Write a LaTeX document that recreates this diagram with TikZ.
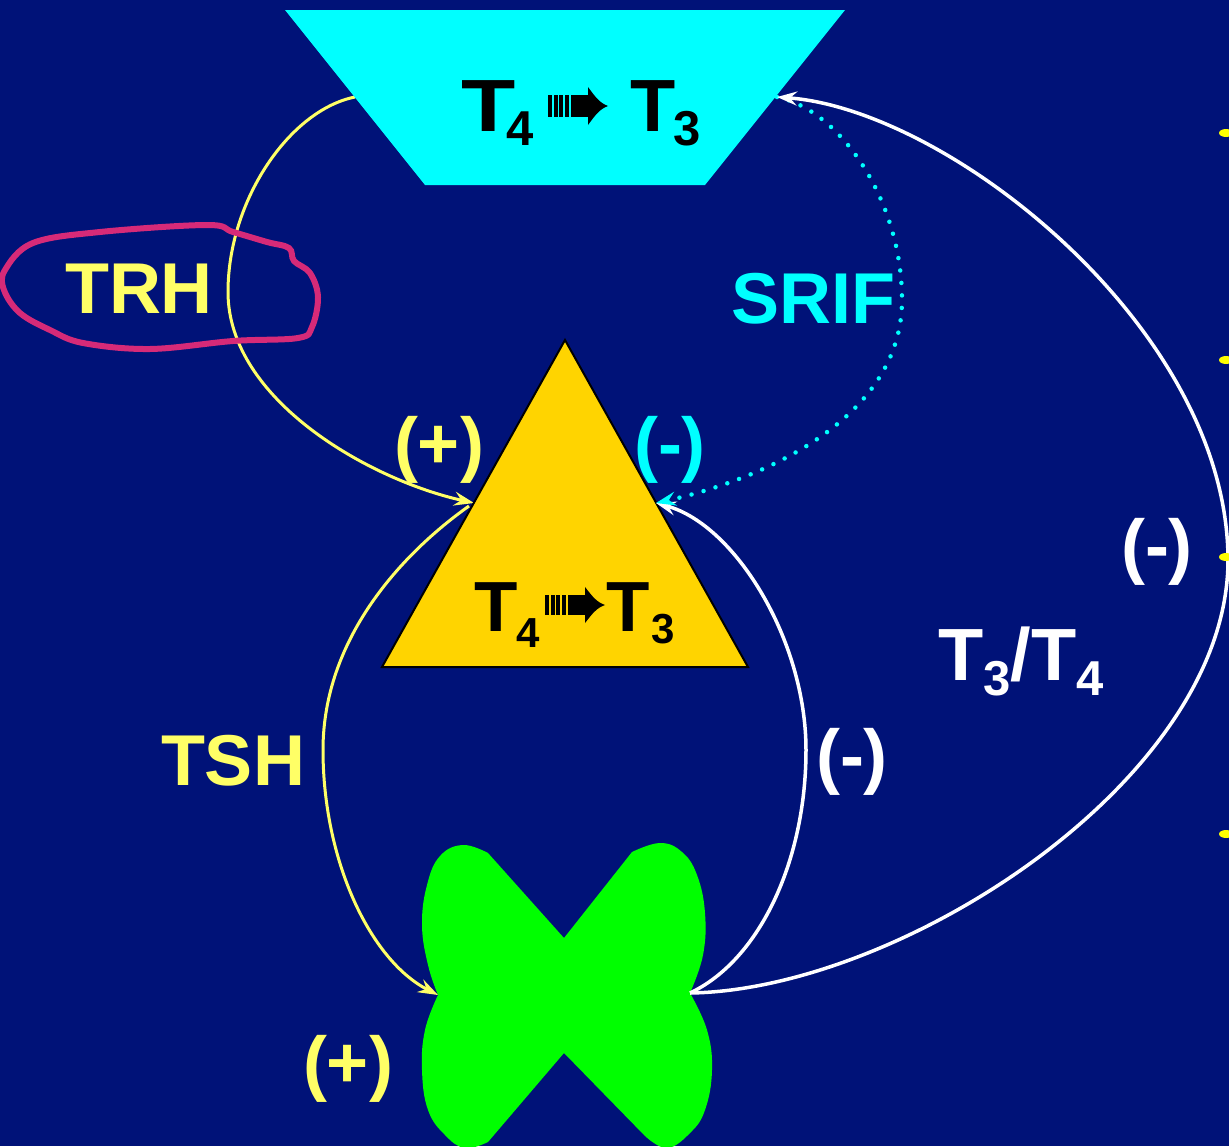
\documentclass[tikz,border=0pt]{standalone}
\usepackage{fontspec}
\setmainfont{Liberation Sans}
\usepackage{graphicx}
\usetikzlibrary{arrows.meta}
\definecolor{bgnavy}{RGB}{0,18,120}
\definecolor{tcyan}{RGB}{0,255,255}
\definecolor{tgold}{RGB}{255,212,0}
\definecolor{tgreen}{RGB}{0,255,0}
\definecolor{lyel}{RGB}{255,255,102}
\definecolor{dotyel}{RGB}{255,255,0}
\definecolor{tmag}{RGB}{214,42,120}
\newcommand\fsz[1]{\fontsize{#1}{#1}\selectfont}
\tikzset{
  lbl/.style={inner sep=0pt, anchor=base, font=\bfseries\fsz{72}},
  bw/.style={inner sep=0pt, anchor=base west, font=\bfseries\fsz{#1}},
  tip/.style={-{Stealth[length=20pt,width=14pt,inset=7pt]}},
  yline/.style={draw=lyel, line width=3pt},
  wline/.style={draw=white, line width=3.5pt},
  cdots/.style={draw=tcyan, line width=4.5pt, line cap=round, dash pattern=on 0pt off 12.5pt},
  dasharrow/.pic={
    \foreach \xa in {0,5.7,11.4,17.1,22.8}{\fill (\xa,-11) rectangle ++(3.8,22);}
    \fill (26.5,-11) rectangle (41,11);
    \fill (40,-19) .. controls (48,-8) and (52,-3) .. (60,0) .. controls (52,3) and (48,8) .. (40,19) -- cycle;
  }
}
\begin{document}
\begin{tikzpicture}[x=1pt,y=-1pt]
\useasboundingbox (0,0) rectangle (1229,1146);
\clip (0,0) rectangle (1229,1146);
\fill[bgnavy] (0,0) rectangle (1229,1146);

% connection points
\coordinate (trapL) at (355,97);
\coordinate (trapR) at (777,97);
\coordinate (triL) at (474,503);
\coordinate (triLs) at (469,506);
\coordinate (triR) at (656,503);
\coordinate (thyL) at (438,995);
\coordinate (thyR) at (690,993);
\coordinate (w1) at (228,292);
\coordinate (w2) at (323,750);
\coordinate (w3) at (806,750);
\coordinate (w4) at (902,300);
\coordinate (w5) at (1228,560);

% TRH curve (under the magenta outline)
\draw[yline, tip] (trapL) .. controls (290,110) and (228,200) .. (w1)
  .. controls (228,400) and (370,480) .. (triL);

% magenta hand-drawn outline
\draw[tmag, line width=6pt] plot[smooth cycle, tension=0.6] coordinates {
 (5,270) (33,243) (100,232) (207,225) (233,232) (267,242) (289,248) (294,261)
 (310,273) (318,297) (312,327) (298,338) (233,341) (150,349) (83,343) (50,330) (20,313) (4,290)};

% trapezoid
\fill[tcyan] (285,10) -- (845,10) -- (705,185) -- (425,185) -- cycle;
% triangle
\draw[fill=tgold, draw=black, line width=2pt, line join=miter] (565,340) -- (748,667) -- (382,667) -- cycle;
% thyroid
\fill[tgreen] (564,938) -- (488,853)
  -- plot[smooth, tension=0.7] coordinates {(488,853) (463,845) (440,856) (427,885) (422,925) (428,965) (438,995)}
  -- plot[smooth, tension=0.7] coordinates {(438,995) (425,1030) (422,1070) (428,1110) (445,1135) (465,1148) (488,1142)}
  -- (564,1053) -- (645,1136)
  -- plot[smooth, tension=0.7] coordinates {(645,1136) (667,1148) (690,1133) (705,1110) (712,1070) (707,1030) (690,993)}
  -- plot[smooth, tension=0.7] coordinates {(690,993) (703,955) (705,913) (697,875) (682,852) (660,843) (632,852)}
  -- cycle;

% TSH curve
\draw[yline, tip] (triLs) .. controls (400,555) and (323,640) .. (w2)
  .. controls (323,860) and (370,960) .. (thyL);
% white thyroid -> pituitary
\draw[wline, tip] (thyR) .. controls (760,960) and (806,860) .. (w3)
  .. controls (806,640) and (735,525) .. (triR);
% SRIF dotted
\draw[cdots, tip] (trapR) .. controls (840,110) and (902,200) .. (w4)
  .. controls (902,420) and (760,480) .. (triR);
% big white feedback
\draw[wline, tip] (thyR) .. controls (900,990) and (1228,780) .. (w5)
  .. controls (1228,330) and (950,110) .. (trapR);

% top label
\node[bw=74, text=black] (topT4) at (461,131)
  {\scalebox{1.2}[1]{T}\kern-9pt\raisebox{-14pt}{\fsz{49}4}};
\pic at (548,106) {dasharrow};
\node[bw=74, text=black] (topT3) at (630,131)
  {T\kern-2pt\raisebox{-14pt}{\fsz{49}3}};

% triangle label
\node[bw=71, text=black] (triT4) at (474,631)
  {T\kern-1.5pt\raisebox{-16pt}{\fsz{42}4}};
\pic[yscale=0.95] at (545,605) {dasharrow};
\node[bw=71, text=black] (triT3) at (606,631)
  {T\kern1.5pt\raisebox{-12pt}{\fsz{42}3}};

% labels
\node[lbl, text=lyel] (trh) at (139,313) {TRH};
\node[lbl, text=tcyan] (srif) at (813,323) {SRIF};
\node[lbl, text=lyel] (tsh) at (233,785) {TSH};
\node[lbl, text=lyel] (plus1) at (439,468) {(+)};
\node[lbl, text=tcyan] (minus1) at (670,468) {(-)};
\node[lbl, text=white] (minus2) at (852,780) {(-)};
\node[lbl, text=white] (minus3) at (1157,570) {(-)};
\node[lbl, text=lyel] (plus2) at (348,1087) {(+)};
\node[bw=74, text=white] (t3t4) at (938,680)
  {T\raisebox{-15pt}{\fsz{49}3}/T\raisebox{-15pt}{\fsz{49}4}};

% yellow bullets at right edge
\foreach \yy in {133,360,557,834}
  \fill[dotyel] (1226,\yy) ellipse [x radius=7, y radius=4];
\end{tikzpicture}
\end{document}
